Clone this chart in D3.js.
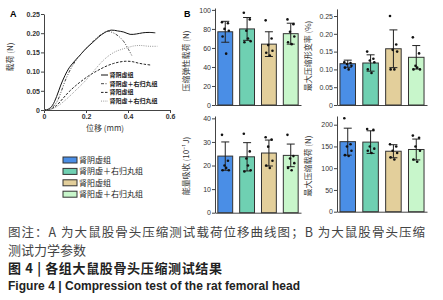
<!DOCTYPE html>
<html><head><meta charset="utf-8">
<script src="https://cdn.jsdelivr.net/npm/d3@7"></script>
<style>
html,body{margin:0;padding:0;background:#fff;}
svg{display:block;}
text{font-family:"Noto Sans CJK SC","Noto Sans",sans-serif;}
</style></head>
<body>
<svg id="chart" width="443" height="300"></svg>
<script>
// ---------- Data ----------
const curveNames = ["肾阴虚组","肾阴虚＋右归丸组","肾阳虚组","肾阳虚＋右归丸组"];
const curve1X = [0,0.02,0.04,0.06,0.08,0.1,0.12,0.15,0.18,0.2,0.23,0.26,0.29,0.32,0.35,0.38,0.41,0.44,0.47,0.5,0.53];
const curve1Y = [0,0.002,0.012,0.035,0.065,0.09,0.11,0.13,0.148,0.16,0.175,0.19,0.202,0.208,0.206,0.203,0.197,0.198,0.201,0.202,0.201];
const curve2X = [0,0.03,0.06,0.08,0.1,0.13,0.16,0.2,0.24,0.27,0.3,0.32,0.34,0.36,0.38,0.4,0.42];
const curve2Y = [0,0.003,0.02,0.045,0.075,0.11,0.135,0.16,0.182,0.196,0.205,0.203,0.198,0.19,0.178,0.16,0.14];
const curve3X = [0,0.03,0.06,0.09,0.12,0.15,0.18,0.21,0.24,0.27,0.3,0.33,0.36,0.39,0.42,0.45,0.48,0.51];
const curve3Y = [0,0.002,0.012,0.03,0.048,0.063,0.076,0.088,0.098,0.107,0.115,0.121,0.125,0.127,0.126,0.122,0.119,0.117];
const curve4X = [0,0.04,0.07,0.1,0.13,0.16,0.19,0.22,0.25,0.28,0.31,0.34,0.37,0.4,0.43,0.46,0.5,0.54];
const curve4Y = [0,0.003,0.012,0.025,0.04,0.056,0.072,0.09,0.11,0.128,0.142,0.152,0.158,0.163,0.167,0.168,0.166,0.166];
const aXTicks = [0,0.2,0.4,0.6];
const aYTicks = [0,0.05,0.10,0.15,0.20,0.25];

const groups = ["肾阴虚组","肾阴虚＋右归丸组","肾阳虚组","肾阳虚＋右归丸组"];
// B1 压缩弹性载荷 (N)
const b1Mean = [77,80,64,75];
const b1SD   = [11,12,13,11];
const b1Pts  = [[87,86,80,78,72,54],[97,90,78,67,66,70],[89,70,63,57,55,52],[90,85,77,72,66,64]];
const b1Ticks = [0,20,40,60,80,100];
// B2 最大压缩形变率 (%)
const b2Mean = [0.116,0.118,0.158,0.134];
const b2SD   = [0.01,0.023,0.053,0.033];
const b2Pts  = [[0.12,0.118,0.115,0.11,0.105,0.1],[0.15,0.13,0.125,0.12,0.1,0.09],[0.25,0.17,0.155,0.15,0.1,0.1],[0.19,0.145,0.11,0.1,0.1,0.105]];
const b2Ticks = [0,0.05,0.10,0.15,0.20,0.25];
// B3 能量吸收 (10⁻¹J)
const b3Mean = [24,23.7,25.3,24.3];
const b3SD   = [6,6,5.5,4.8];
const b3Pts  = [[33,22,20,18,18,19],[33.5,26,23,18,17.5,20],[32,31,28,22,20,19],[33,24,23,21,19,18]];
const b3Ticks = [0,10,20,30,40];
// B4 最大压缩载荷 (N)
const b4Mean = [161,160,139,143];
const b4SD   = [31,26,15,24];
const b4Pts  = [[215,155,150,140,130,128],[190,188,150,145,140,135],[155,150,140,135,125,120],[175,170,150,140,120,115]];
const b4Ticks = [0,50,100,150,200];

const jitter = [-0.22,0.18,-0.05,0.24,-0.18,0.06];
const barColors = ["#4a8ee6","#6fd0b2","#e3cf9b","#c8f6cb"];
const captionLines = ["图注：A 为大鼠股骨头压缩测试载荷位移曲线图；B 为大鼠股骨头压缩","测试力学参数","图 4  | 各组大鼠股骨头压缩测试结果","Figure 4  |  Compression test of the rat femoral head"];

// ---------- Drawing ----------
const svg = d3.select("#chart");
const axisCol = "#444";
function styleAxis(g){
  g.selectAll("path,line").attr("stroke",axisCol).attr("stroke-width",1);
  g.selectAll("text").attr("fill","#333").style("font-size","7px").style("font-family","Liberation Sans, Arial, sans-serif");
}

// Panel A
const ax = d3.scaleLinear().domain([0,0.6]).range([44,170]);
const ay = d3.scaleLinear().domain([0,0.25]).range([110,14]);
const gA = svg.append("g");
gA.append("g").attr("transform","translate(44,0)")
  .call(d3.axisLeft(ay).tickValues(aYTicks).tickSize(3).tickPadding(1).tickSizeOuter(0)
    .tickFormat(d=> d===0?"0":d3.format(".2f")(d))).call(styleAxis);
gA.append("g").attr("transform","translate(0,110)")
  .call(d3.axisBottom(ax).tickValues(aXTicks).tickSize(3).tickPadding(1).tickSizeOuter(0)
    .tickFormat(d=> d===0?"0":d3.format(".1f")(d))).call(styleAxis);
gA.selectAll(".tick text").style("font-weight","bold");

const curvesData = [
  {x:curve1X,y:curve1Y,dash:null,color:"#111"},
  {x:curve2X,y:curve2Y,dash:"3,1.5,1,1.5,1,1.5",color:"#444"},
  {x:curve3X,y:curve3Y,dash:"2.5,1.5",color:"#222"},
  {x:curve4X,y:curve4Y,dash:"1,1.2",color:"#999"}
];
const line = d3.line().x(d=>ax(d[0])).y(d=>ay(d[1])).curve(d3.curveCatmullRom.alpha(0.5));
curvesData.forEach(c=>{
  gA.append("path").datum(c.x.map((v,i)=>[v,c.y[i]]))
    .attr("d",line).attr("fill","none").attr("stroke",c.color).attr("stroke-width",1)
    .attr("stroke-dasharray",c.dash);
});
// legend A
curveNames.forEach((n,i)=>{
  const yy = 75 + i*8.7;
  gA.append("line").attr("x1",101).attr("x2",108).attr("y1",yy).attr("y2",yy)
    .attr("stroke",curvesData[i].color).attr("stroke-width",1).attr("stroke-dasharray",curvesData[i].dash);
  gA.append("text").attr("x",109.5).attr("y",yy+2).text(n).style("font-size","6px").attr("fill","#222").style("font-weight","bold");
});
gA.append("text").attr("x",10).attr("y",17).text("A").style("font-size","9px").style("font-weight","bold").style("font-family","Liberation Sans, Arial, sans-serif");
gA.append("text").attr("transform","translate(13,57) rotate(-90)").attr("text-anchor","middle")
  .text("载荷 (N)").style("font-size","8px").attr("fill","#333");
gA.append("text").attr("x",105).attr("y",131).attr("text-anchor","middle")
  .text("位移 (mm)").style("font-size","8px").attr("fill","#333");

// Bar panels
function barPanel(opt){
  const g = svg.append("g");
  const x = d3.scaleBand().domain(groups).range([opt.x0,opt.x1]).paddingInner(0.32).paddingOuter(0.13);
  const y = d3.scaleLinear().domain([0,opt.ymax]).range([opt.yb,opt.yt]);
  g.append("g").attr("transform",`translate(${opt.x0},0)`)
    .call(d3.axisLeft(y).tickValues(opt.ticks).tickSize(3).tickPadding(1).tickSizeOuter(0).tickFormat(opt.fmt))
    .call(styleAxis);
  g.append("g").attr("transform",`translate(0,${opt.yb})`)
    .call(d3.axisBottom(x).tickSize(0).tickFormat("")).call(styleAxis);
  groups.forEach((gr,i)=>{
    const bx = x(gr), bw = x.bandwidth(), cx = bx+bw/2;
    g.append("rect").attr("x",bx).attr("y",y(opt.mean[i])).attr("width",bw)
      .attr("height",y(0)-y(opt.mean[i])).attr("fill",barColors[i]).attr("stroke","#333").attr("stroke-width",1);
    const lo = opt.mean[i]-opt.sd[i], hi = opt.mean[i]+opt.sd[i];
    g.append("line").attr("x1",cx).attr("x2",cx).attr("y1",y(lo)).attr("y2",y(hi)).attr("stroke","#222").attr("stroke-width",1);
    [lo,hi].forEach(v=>g.append("line").attr("x1",cx-4).attr("x2",cx+4).attr("y1",y(v)).attr("y2",y(v)).attr("stroke","#222").attr("stroke-width",1));
    opt.pts[i].forEach((p,j)=>{
      g.append("circle").attr("cx",cx+jitter[j]*bw).attr("cy",y(p)).attr("r",1.3).attr("fill","#111");
    });
  });
  g.append("text").attr("transform",`translate(${opt.lx},${opt.ly}) rotate(-90)`).attr("text-anchor","middle")
    .text(opt.label).style("font-size","8px").attr("fill","#333");
  return g;
}
barPanel({x0:215,x1:301,yb:105,yt:8,ymax:102,ticks:b1Ticks,fmt:d3.format("d"),mean:b1Mean,sd:b1SD,pts:b1Pts,label:"压缩弹性载荷 (N)",lx:189,ly:61});
barPanel({x0:337,x1:427,yb:105,yt:8.9,ymax:0.27,ticks:b2Ticks,fmt:d=>d===0?"0":d3.format(".2f")(d),mean:b2Mean,sd:b2SD,pts:b2Pts,label:"最大压缩形变率 (%)",lx:311,ly:56});
barPanel({x0:215,x1:301,yb:212.7,yt:116,ymax:41,ticks:b3Ticks,fmt:d3.format("d"),mean:b3Mean,sd:b3SD,pts:b3Pts,label:"能量吸收 (10⁻¹J)",lx:189,ly:166});
barPanel({x0:337,x1:427,yb:211.7,yt:116,ymax:220,ticks:b4Ticks,fmt:d3.format("d"),mean:b4Mean,sd:b4SD,pts:b4Pts,label:"最大压缩载荷 (N)",lx:311,ly:166});
svg.append("text").attr("x",184).attr("y",17).text("B").style("font-size","9px").style("font-weight","bold").style("font-family","Liberation Sans, Arial, sans-serif");

// legend B
groups.forEach((n,i)=>{
  const yy = 160 + i*11.4;
  svg.append("rect").attr("x",63).attr("y",yy-3).attr("width",14).attr("height",6)
    .attr("fill",barColors[i]).attr("stroke","#333").attr("stroke-width",1);
  svg.append("text").attr("x",79).attr("y",yy+3).text(n).style("font-size","8px").attr("fill","#222");
});

// caption
const capY = [237,255,273,290];
const capSize = ["12.5px","13px","13px","12px"];
const capLen = [417,null,214,292];
captionLines.forEach((t,i)=>{
  const tx = svg.append("text").attr("x",8).attr("y",capY[i]).text(t)
    .style("font-size", capSize[i])
    .style("font-weight", i<2?"normal":"bold")
    .attr("fill", i<2?"#444":"#222");
  if(capLen[i]) tx.attr("textLength",capLen[i]).attr("lengthAdjust","spacing");
  if(i===3) tx.style("font-family","Liberation Sans, Arial, sans-serif");
});
</script>
</body></html>
